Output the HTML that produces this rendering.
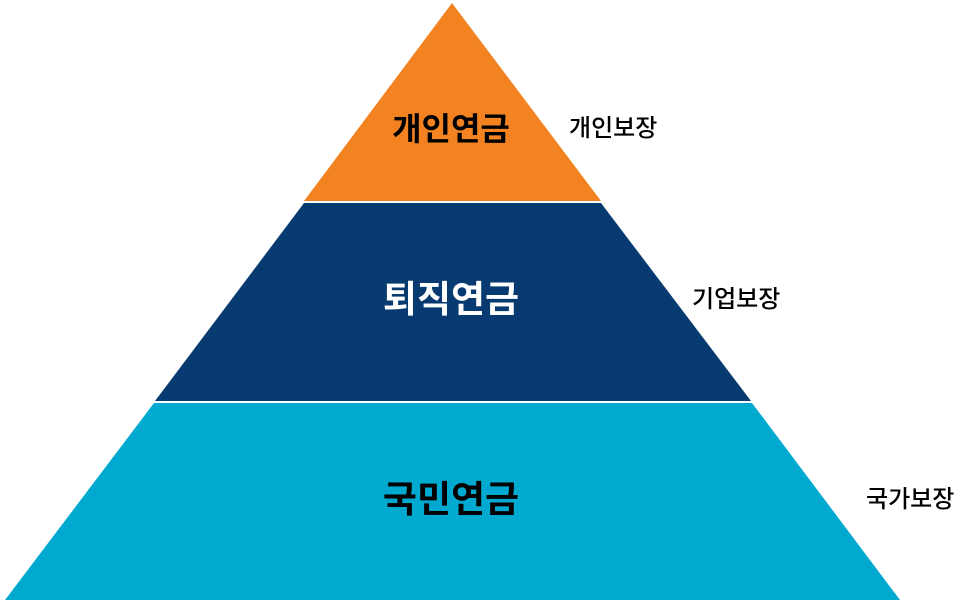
<!DOCTYPE html>
<html><head><meta charset="utf-8"><style>
html,body{margin:0;padding:0;background:#fff;}
body{width:971px;height:603px;position:relative;overflow:hidden;font-family:"Liberation Sans","Noto Sans CJK KR","NanumGothic",sans-serif;}
.t{position:absolute;white-space:nowrap;line-height:1;}
.m{font-weight:bold;font-size:37px;width:300px;text-align:center;left:301px;}
.s{font-size:24px;color:#000;font-weight:500;}
</style></head><body>
<svg width="971" height="603" style="position:absolute;left:0;top:0">
<polygon points="452,3 601,201 304,201" fill="#F38321"/>
<polygon points="304,203 601,203 751,401 155,401" fill="#063A70"/>
<polygon points="154,403 752,403 900,600 5,600" fill="#00A9CF"/>
</svg>
<div class="t m" style="top:113px;color:#000;font-size:32px">개인연금</div>
<div class="t m" style="top:281px;color:#fff">퇴직연금</div>
<div class="t m" style="top:481px;color:#000">국민연금</div>
<div class="t s" style="left:569px;top:117px">개인보장</div>
<div class="t s" style="left:692px;top:288px">기업보장</div>
<div class="t s" style="left:866px;top:488px">국가보장</div>
</body></html>
